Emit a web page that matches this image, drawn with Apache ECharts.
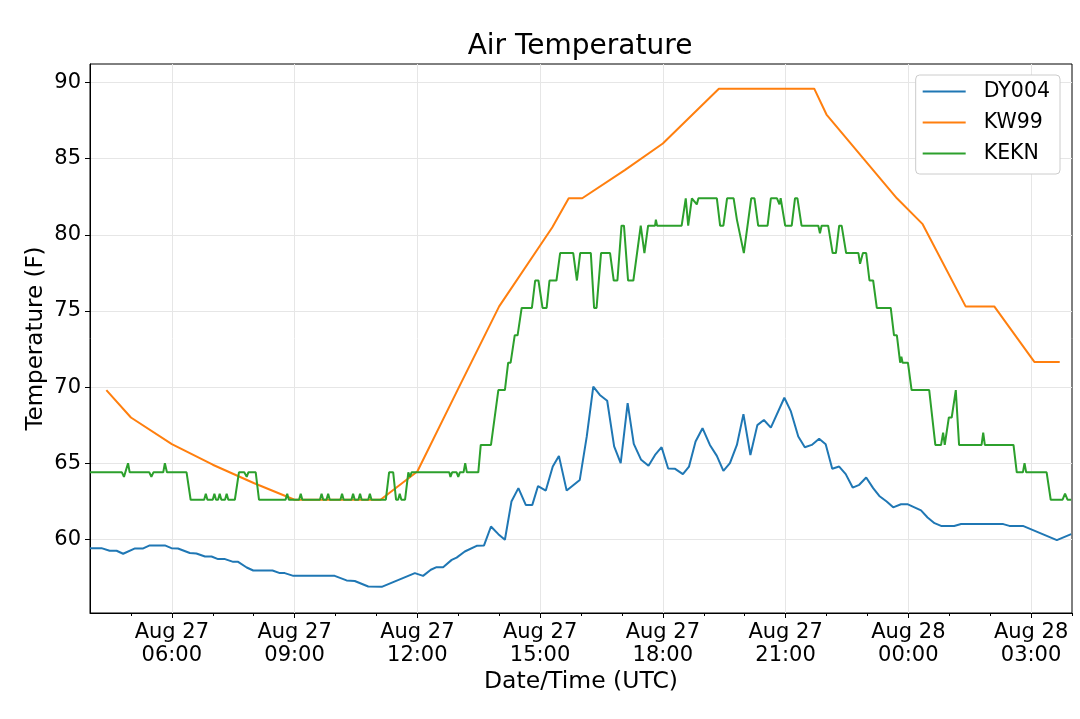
<!DOCTYPE html>
<html>
<head>
<meta charset="utf-8">
<script src="https://cdn.jsdelivr.net/npm/echarts@6/dist/echarts.min.js"></script>
<style>
html,body{margin:0;padding:0;background:#fff;}
#chart{width:1080px;height:719px;}
</style>
</head>
<body>
<div id="chart"></div>
<script>
// ---- DATA (hours since Aug 27 00:00 UTC, temperature in F) ----
const seriesNames = ['DY004', 'KW99', 'KEKN'];

const dyHours = [4.00,4.28,4.48,4.65,4.81,5.10,5.30,5.46,5.83,5.99,6.15,6.44,6.60,6.81,6.97,7.13,7.30,7.50,7.62,7.83,7.99,8.46,8.64,8.76,8.97,9.98,10.27,10.47,10.80,11.13,11.94,12.14,12.33,12.47,12.63,12.84,12.96,13.16,13.45,13.63,13.80,13.98,14.14,14.30,14.47,14.65,14.81,14.95,15.14,15.31,15.46,15.65,15.97,16.14,16.30,16.46,16.64,16.81,16.97,17.14,17.29,17.47,17.65,17.81,17.97,18.13,18.30,18.49,18.64,18.80,18.97,19.15,19.32,19.48,19.64,19.81,19.97,20.14,20.31,20.47,20.64,20.97,21.13,21.31,21.47,21.64,21.82,21.98,22.14,22.31,22.47,22.64,22.80,22.97,23.14,23.29,23.47,23.63,23.82,23.99,24.15,24.31,24.47,24.64,24.80,25.12,25.29,26.32,26.47,26.80,27.63,27.98];
const dyTemps = [59.42,59.42,59.25,59.25,59.05,59.4,59.4,59.6,59.6,59.42,59.4,59.1,59.07,58.87,58.87,58.7,58.7,58.52,58.52,58.15,57.95,57.95,57.78,57.78,57.6,57.6,57.3,57.26,56.9,56.88,57.78,57.6,58.0,58.17,58.17,58.65,58.8,59.2,59.57,59.6,60.84,60.34,59.97,62.48,63.36,62.26,62.26,63.5,63.2,64.78,65.48,63.2,63.9,66.74,70.03,69.48,69.1,66.1,65.0,68.94,66.27,65.22,64.83,65.54,66.05,64.65,64.63,64.28,64.78,66.42,67.3,66.2,65.48,64.5,65.0,66.2,68.22,65.54,67.5,67.84,67.34,69.3,68.4,66.75,66.05,66.2,66.6,66.25,64.63,64.78,64.28,63.4,63.58,64.06,63.36,62.85,62.48,62.1,62.3,62.3,62.1,61.9,61.43,61.06,60.88,60.88,61.0,61.0,60.88,60.88,59.95,60.34];

const kwHours = [4.40,5.00,6.00,7.00,8.00,9.00,10.00,11.10,12.00,13.00,14.00,15.30,15.70,16.03,17.07,18.00,19.37,20.50,21.70,22.00,23.72,24.35,25.40,26.10,27.08,27.70];
const kwTemps = [69.8,68.0,66.25,64.9,63.7,62.6,62.6,62.6,64.45,69.9,75.3,80.5,82.4,82.4,84.25,86.0,89.6,89.6,89.6,87.9,82.4,80.7,75.3,75.3,71.65,71.65];

const ekHours = [4.00,4.78,4.83,4.93,4.97,5.45,5.50,5.55,5.79,5.83,5.88,6.36,6.46,
  6.79,6.83,6.87,7.00,7.04,7.08,7.13,7.17,7.21,7.30,7.34,7.38,7.54,7.64,7.77,7.83,7.87,8.05,8.13,
  8.78,8.82,8.86,9.11,9.15,9.19,9.62,9.66,9.70,9.78,9.82,9.86,10.12,10.16,10.20,10.39,10.43,10.47,10.56,10.60,10.64,10.80,10.84,10.88,
  11.23,11.31,11.41,11.48,11.53,11.57,11.61,11.70,11.78,11.82,11.86,
  12.78,12.81,12.85,12.96,13.00,13.04,13.13,13.17,13.21,13.49,13.55,13.80,13.98,14.14,14.22,14.28,14.38,14.45,14.55,14.80,14.88,14.96,15.06,15.16,15.23,15.40,15.49,15.81,15.90,15.98,16.24,16.32,16.38,16.49,16.71,16.80,16.89,16.99,17.05,17.15,17.28,17.46,17.55,17.64,17.81,17.83,17.86,18.46,18.56,18.62,18.71,18.83,18.87,19.32,19.40,19.48,19.57,19.73,19.81,19.98,20.16,20.24,20.33,20.56,20.64,20.79,20.85,20.88,20.99,21.15,21.23,21.29,21.39,21.80,21.84,21.88,22.04,22.15,22.23,22.31,22.37,22.48,22.78,22.82,22.89,22.97,23.05,23.14,23.23,23.57,23.65,23.72,23.80,23.83,23.86,23.99,24.08,24.51,24.66,24.80,24.85,24.89,24.99,25.06,25.16,25.24,25.79,25.83,25.87,26.57,26.65,26.80,26.84,26.88,27.38,27.48,27.77,27.83,27.89,27.98];
const ekTemps = [64.4,64.4,64.1,65.0,64.4,64.4,64.1,64.4,64.4,65.0,64.4,64.4,62.6,
  62.6,63.0,62.6,62.6,63.0,62.6,62.6,63.0,62.6,62.6,63.0,62.6,62.6,64.4,64.4,64.1,64.4,64.4,62.6,
  62.6,63.0,62.6,62.6,63.0,62.6,62.6,63.0,62.6,62.6,63.0,62.6,62.6,63.0,62.6,62.6,63.0,62.6,62.6,63.0,62.6,62.6,63.0,62.6,
  62.6,64.4,64.4,62.6,62.6,63.0,62.6,62.6,64.4,64.1,64.4,
  64.4,64.1,64.4,64.4,64.1,64.4,64.4,65.0,64.4,64.4,66.2,66.2,69.8,69.8,71.6,71.6,73.4,73.4,75.2,75.2,77.0,77.0,75.2,75.2,77.0,77.0,78.8,78.8,77.0,78.8,78.8,75.2,75.2,78.8,78.8,77.0,77.0,80.6,80.6,77.0,77.0,80.6,78.8,80.6,80.6,81.0,80.6,80.6,82.4,80.6,82.4,82.0,82.4,82.4,80.6,80.6,82.4,82.4,81.0,78.8,82.4,82.4,80.6,80.6,82.4,82.4,82.0,82.4,80.6,80.6,82.4,82.4,80.6,80.6,80.1,80.6,80.6,78.8,78.8,80.6,80.6,78.8,78.8,78.1,78.8,78.8,77.0,77.0,75.2,75.2,73.4,73.4,71.6,72.0,71.6,71.6,69.8,69.8,66.2,66.2,67.0,66.2,68.0,68.0,69.8,66.2,66.2,67.0,66.2,66.2,64.4,64.4,65.0,64.4,64.4,62.6,62.6,63.0,62.6,62.6];

const xTickHours = [6, 9, 12, 15, 18, 21, 24, 27];
const xMinorHours = [5,6,7,8,9,10,11,12,13,14,15,16,17,18,19,20,21,22,23,24,25,26,27,28];
const yTicks = [60, 65, 70, 75, 80, 85, 90];

// ---- build ----
function zip(a, b) { return a.map((v, i) => [v, b[i]]); }
function fmtX(v) {
  const day = v >= 24 ? 28 : 27;
  const h = Math.round(v) % 24;
  return 'Aug ' + day + '\n' + (h < 10 ? '0' + h : '' + h) + ':00';
}
const FONT = 'DejaVu Sans';
const colors = ['#1f77b4', '#ff7f0e', '#2ca02c'];

const chart = echarts.init(document.getElementById('chart'), null, {renderer: 'canvas'});
chart.setOption({
  animation: false,
  backgroundColor: '#fff',
  color: colors,
  textStyle: {fontFamily: FONT},
  title: {
    text: 'Air Temperature',
    left: 575, top: 28, textAlign: 'center',
    textStyle: {fontFamily: FONT, fontSize: 28, fontWeight: 'normal', color: '#000'}
  },
  legend: {
    orient: 'vertical', right: 20, top: 75,
    data: seriesNames.map(n => ({name: n, icon: 'rect'})),
    itemWidth: 43, itemHeight: 2, itemGap: 10,
    padding: [6, 10, 10, 7],
    borderColor: '#cccccc', borderWidth: 1, borderRadius: 4,
    backgroundColor: '#fff',
    textStyle: {fontFamily: FONT, fontSize: 20.5, color: '#000', lineHeight: 21, padding: [0, 0, 0, 13]}
  },
  grid: {
    left: 90, right: 8, top: 64, bottom: 106,
    show: true, borderColor: '#000', borderWidth: 1, backgroundColor: 'transparent'
  },
  xAxis: [{
    type: 'value', min: 4, max: 28, position: 'bottom',
    name: 'Date/Time (UTC)', nameLocation: 'middle', nameGap: 57, nameMoveOverlap: false,
    nameTextStyle: {fontFamily: FONT, fontSize: 23.5, color: '#000'},
    axisLine: {show: true, lineStyle: {color: '#000', width: 1}},
    axisTick: {show: true, length: 5, lineStyle: {color: '#000'}, customValues: xTickHours},
    axisLabel: {customValues: xTickHours, formatter: fmtX, fontFamily: FONT, fontSize: 21, color: '#000', lineHeight: 23, margin: 8},
    splitLine: {show: true, lineStyle: {color: '#e6e6e6', width: 1}}
  }, {
    type: 'value', min: 4, max: 28, position: 'bottom',
    axisLine: {show: false},
    axisTick: {show: true, length: 3, lineStyle: {color: '#000'}, customValues: xMinorHours},
    axisLabel: {show: false},
    splitLine: {show: false}
  }],
  yAxis: {
    type: 'value', min: 55.16, max: 91.22,
    name: 'Temperature (F)', nameLocation: 'middle', nameGap: 42, nameMoveOverlap: false,
    nameTextStyle: {fontFamily: FONT, fontSize: 23, color: '#000'},
    axisLine: {show: true, lineStyle: {color: '#000', width: 1}},
    axisTick: {show: true, length: 5, lineStyle: {color: '#000'}, customValues: yTicks},
    axisLabel: {customValues: yTicks, fontFamily: FONT, fontSize: 21, color: '#000', margin: 9},
    splitLine: {show: true, lineStyle: {color: '#e6e6e6', width: 1}}
  },
  series: [
    {name: seriesNames[0], type: 'line', xAxisIndex: 0, data: zip(dyHours, dyTemps), showSymbol: false, symbol: 'none', lineStyle: {width: 2}, z: 3},
    {name: seriesNames[1], type: 'line', xAxisIndex: 0, data: zip(kwHours, kwTemps), showSymbol: false, symbol: 'none', lineStyle: {width: 2}, z: 4},
    {name: seriesNames[2], type: 'line', xAxisIndex: 0, data: zip(ekHours, ekTemps), showSymbol: false, symbol: 'none', lineStyle: {width: 2}, z: 5}
  ]
});
</script>
</body>
</html>
